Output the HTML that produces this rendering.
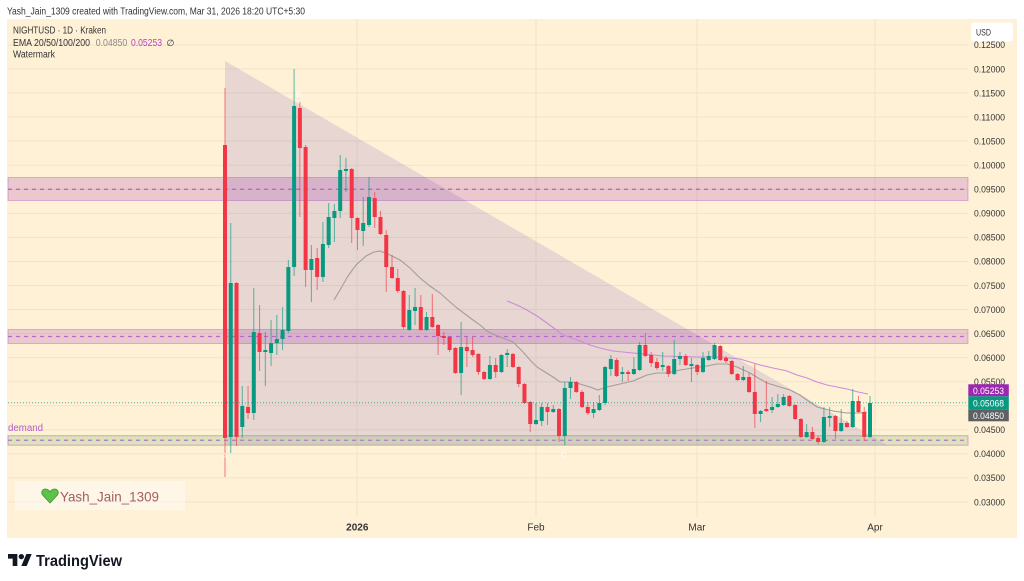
<!DOCTYPE html>
<html><head><meta charset="utf-8"><style>
html,body{margin:0;padding:0;background:#fff;width:1024px;height:581px;overflow:hidden}
svg{display:block;font-family:"Liberation Sans",sans-serif}
</style></head><body>
<svg id="s" width="1024" height="581" viewBox="0 0 1024 581" xmlns="http://www.w3.org/2000/svg">
<rect x="0" y="0" width="1024" height="581" fill="#ffffff"/>
<rect x="7" y="19" width="1010" height="519" fill="#fef1d6"/>
<g id="grid" stroke="#f2e3c8" stroke-width="1"></g>
<!-- triangle -->
<polygon points="225,61 887,445 225,445" fill="rgba(103,58,183,0.15)"/>
<!-- zones -->
<rect x="8" y="177.5" width="960" height="23" fill="rgba(156,39,176,0.2)" stroke="rgba(170,70,190,0.35)" stroke-width="1"/>
<line x1="8" y1="189.3" x2="968" y2="189.3" stroke="#b868cc" stroke-width="1.3" stroke-dasharray="4 4"/>
<rect x="8" y="329.5" width="960" height="14" fill="rgba(156,39,176,0.2)" stroke="rgba(170,70,190,0.35)" stroke-width="1"/>
<line x1="8" y1="336.5" x2="968" y2="336.5" stroke="#b868cc" stroke-width="1.3" stroke-dasharray="4 4"/>
<rect x="8" y="435.7" width="960" height="9.5" fill="rgba(139,195,120,0.3)" stroke="rgba(190,110,180,0.55)" stroke-width="1"/>
<line x1="8" y1="440.3" x2="968" y2="440.3" stroke="#c07ccc" stroke-width="1.3" stroke-dasharray="4 4"/>
<text x="8" y="431" font-size="10" fill="#b35cc8" textLength="35" lengthAdjust="spacingAndGlyphs">demand</text>
<!-- EMAs -->
<polyline fill="none" stroke="#a39d99" stroke-width="1.1" points="334,300 340,290 348,276 356,265 366,256 374,252 380,251 388,254 400,260 410,268 420,278 430,286 440,293 450,302 457,308 465,314 473,320 480,325 487,331 495,335 503,338 513,342 523,352 530,360 537,367 545,372 553,377 560,382 573,382 580,384 590,387 598,390 607,387 620,384 633,381 647,375 657,373 667,373 680,370 693,368 707,366 717,364 727,364 737,367 750,373 758,378 767,383 780,387 790,390 800,395 807,400 817,407 825,409 833,411 847,413 860,413 867,412"/>
<polyline fill="none" stroke="#cf8ad8" stroke-width="1.1" points="507,301 517,305 527,310 537,316 547,323 555,329 563,335 572,338 580,341 590,345 600,348 613,351 633,353 663,356 697,357 720,357 740,359 750,362 760,365 773,368 787,371 797,375 807,378 817,382 827,385 837,387 847,389 858,392 868,394"/>
<g id="candles"></g>
<!-- last price dotted -->
<line x1="8" y1="402.7" x2="968" y2="402.7" stroke="#089981" stroke-width="1" stroke-dasharray="1 2" opacity="0.75"/>
<!-- pattern labels -->
<text x="296" y="97" font-size="8" fill="#ffffff">B</text>
<text x="561" y="458" font-size="8" fill="#ffffff">C</text>
<text x="222" y="459" font-size="8" fill="#ffffff" opacity="0.8">A</text>
<!-- header -->
<text x="7" y="14.5" font-size="10" fill="#333" textLength="298" lengthAdjust="spacingAndGlyphs">Yash_Jain_1309 created with TradingView.com, Mar 31, 2026 18:20 UTC+5:30</text>
<!-- legend -->
<text x="13" y="33.5" font-size="10" fill="#333" textLength="93" lengthAdjust="spacingAndGlyphs">NIGHTUSD · 1D · Kraken</text>
<text x="13" y="45.8" font-size="10" fill="#333" textLength="77" lengthAdjust="spacingAndGlyphs">EMA 20/50/100/200</text>
<text x="95.7" y="45.8" font-size="10" fill="#8a8a8a" textLength="31.6" lengthAdjust="spacingAndGlyphs">0.04850</text>
<text x="131" y="45.8" font-size="10" fill="#c03cc8" textLength="31" lengthAdjust="spacingAndGlyphs">0.05253</text>
<text x="166.5" y="45.8" font-size="9" fill="#333">∅</text>
<text x="13" y="57.5" font-size="10" fill="#333" textLength="42" lengthAdjust="spacingAndGlyphs">Watermark</text>
<!-- price axis labels -->
<g id="plabels" font-size="9.5" fill="#333"></g>
<rect x="971" y="22.5" width="42" height="19" rx="3" fill="#ffffff"/>
<text x="976" y="35.5" font-size="9" fill="#333" textLength="15" lengthAdjust="spacingAndGlyphs">USD</text>
<rect x="968.3" y="384.3" width="40.5" height="12" fill="#9c27b0"/>
<text x="973" y="393.8" font-size="9.5" fill="#fff" textLength="31" lengthAdjust="spacingAndGlyphs">0.05253</text>
<rect x="968.3" y="396.3" width="40.5" height="13" fill="#089981"/>
<text x="973" y="406.3" font-size="9.5" fill="#fff" textLength="31" lengthAdjust="spacingAndGlyphs">0.05068</text>
<rect x="968.3" y="409.3" width="40.5" height="12" fill="#5f6063"/>
<text x="973" y="418.8" font-size="9.5" fill="#fff" textLength="31" lengthAdjust="spacingAndGlyphs">0.04850</text>
<!-- time axis -->
<text x="357.3" y="530.5" font-size="10" font-weight="bold" fill="#333" text-anchor="middle">2026</text>
<text x="536" y="530.5" font-size="10" fill="#333" text-anchor="middle">Feb</text>
<text x="697" y="530.5" font-size="10" fill="#333" text-anchor="middle">Mar</text>
<text x="875" y="530.5" font-size="10" fill="#333" text-anchor="middle">Apr</text>
<!-- watermark box -->
<rect x="15" y="481" width="170" height="29" fill="rgba(255,255,255,0.45)"/>
<path d="M50,503 L43,495.5 C40.5,492.5 42,489 45.5,489 C47.5,489 49,490.3 50,492 C51,490.3 52.5,489 54.5,489 C58,489 59.5,492.5 57,495.5 Z" fill="#5dc24a" stroke="#3f8f35" stroke-width="0.8"/>
<text x="60" y="501.5" font-size="14" fill="#a35f5c" textLength="99" lengthAdjust="spacingAndGlyphs">Yash_Jain_1309</text>
<!-- TradingView logo -->
<g transform="translate(8,551.3) scale(0.667)" fill="#131722">
<path d="M14 22H7V11H0V4h14v18zM28 22h-8l7.5-18h8L28 22z"/>
<circle cx="20" cy="8" r="4"/>
</g>
<text x="36" y="566" font-size="16" font-weight="bold" fill="#131722" textLength="86" lengthAdjust="spacingAndGlyphs">TradingView</text>
</svg>
<script>
(function(){
var NS="http://www.w3.org/2000/svg";
function el(tag,attrs,parent){var e=document.createElementNS(NS,tag);for(var k in attrs)e.setAttribute(k,attrs[k]);parent.appendChild(e);return e;}
var grid=document.getElementById('grid');
function py(p){return 69+(120-p)*4.811;}
for(var p=125;p>=30;p-=5){var y=py(p);el('line',{x1:8,y1:y,x2:968,y2:y},grid);}
[357,536,697,875].forEach(function(x){el('line',{x1:x,y1:19,x2:x,y2:517},grid);});
var pl=document.getElementById('plabels');
for(var p=125;p>=30;p-=5){
 if(p==50)continue;
 var y=py(p);
 var t=el('text',{x:974,y:(y+3.3).toFixed(1),textLength:31,lengthAdjust:'spacingAndGlyphs'},pl);
 t.textContent=(p/1000).toFixed(5);
}
var d=[
['r',145,438,88,477],['g',283,437,223,453],['r',283,437,282,446],['g',406,427,386,438],['r',407,413,386,419],
['g',332,413,288,420],['r',333,352,305,371],['g',350,352,332,386],['g',343,353,320,366],['g',339,343,315,355],
['g',330,339,307,350],['g',267,331,260,333],['g',106,267,69,276],['r',108,148,102,217],['r',147,270,145,287],
['g',259,270,245,302],['r',258,277,248,290],['g',244,277,222,282],['g',217,245,203,248],['g',211,218,204,242],
['g',170,211,155,218],['g',169,171,158,192],['r',169,218,168,243],['r',218,230,217,250],['g',223,231,197,246],
['g',197,225,177,227],['r',198,217,192,228],['r',217,234,211,235],['r',235,267,230,292],['r',267,278,255,279],
['r',278,291,269,293],['r',291,327,290,329],['g',310,330,295,331],['g',307,311,288,325],['r',307,330,295,331],
['g',317,330,312,331],['r',317,327,294,328],['r',325,336,324,355],['r',336,338,332,345],['r',337,350,336,352],
['r',348,373,347,374],['g',347,373,322,395],['r',347,351,337,367],['r',350,355,337,357],['r',354,372,353,375],
['r',372,379,371,380],['g',365,379,356,380],['r',365,372,358,378],['g',355,372,354,373],['g',353,355,349,367],
['r',354,367,353,368],['r',367,384,366,387],['r',384,403,383,404],['r',402,424,401,432],['g',420,424,403,425],
['g',407,421,403,426],['r',407,412,403,425],['g',409,412,405,413],['r',409,436,408,442],['g',388,436,382,445],
['g',382,388,377,399],['r',382,392,381,393],['r',392,407,390,408],['r',407,413,402,415],['g',409,413,402,418],
['g',403,410,395,411],['g',367,403,366,405],['g',359,369,355,376],['r',360,376,358,377],['g',372,374,367,382],
['r',372,374,370,381],['g',369,374,357,375],['g',345,370,342,371],['r',345,356,333,357],['r',355,363,352,367],
['r',362,368,358,370],['g',365,367,352,371],['r',366,374,365,377],['g',359,374,340,375],['g',356,359,352,365],
['r',356,365,354,366],['g',364,366,358,382],['r',365,372,364,375],['g',358,372,352,373],['g',356,360,351,361],
['g',345,359,343,360],['r',346,360,345,361],['r',358,361,356,363],['r',361,374,360,375],['r',374,380,373,381],
['g',377,380,366,381],['r',377,392,373,393],['r',392,414,364,428],['g',411,414,410,422],['r',409,411,381,412],
['g',407,410,397,413],['g',404,407,394,408],['g',397,405,394,406],['r',396,406,395,407],['r',405,419,404,420],
['r',419,437,418,438],['g',432,437,424,438],['r',432,439,427,440],['r',438,442,436,444],['g',417,442,407,443],
['g',416,418,407,427],['r',416,431,415,439],['g',423,431,409,432],['r',423,427,421,428],['g',401,427,389,428],
['r',401,412,396,413],['r',412,437,407,441],['g',403,437,396,438]
];
var cg=document.getElementById('candles');
for(var i=0;i<d.length;i++){
 var c=d[i],x=225+i*5.7589,col=c[0]=='g'?'#089981':'#f23645';
 el('rect',{x:(x-0.5).toFixed(2),y:c[3],width:1,height:Math.max(1,c[4]-c[3]),fill:col,opacity:0.65},cg);
 var h=Math.max(1.5,c[2]-c[1]);
 el('rect',{x:(x-2).toFixed(2),y:c[1],width:4,height:h,fill:col},cg);
}
})();
</script>
</body></html>
